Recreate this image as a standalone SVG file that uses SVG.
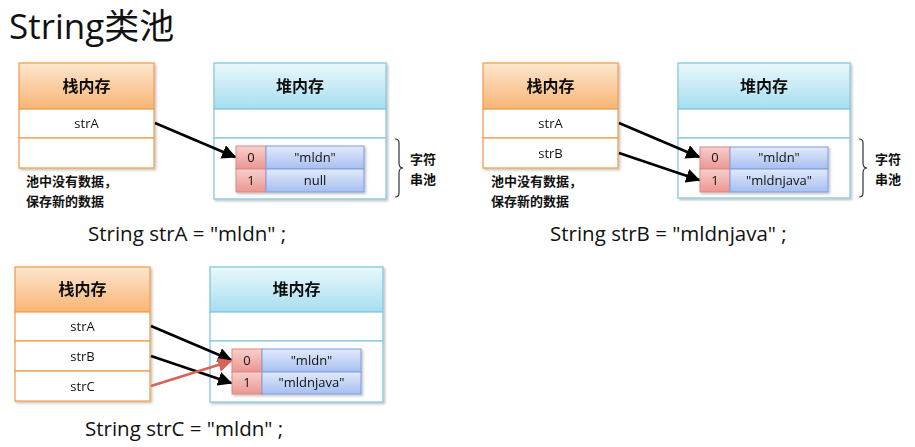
<svg xmlns="http://www.w3.org/2000/svg" width="915" height="447" viewBox="0 0 915 447">
<defs>
<linearGradient id="gOr" x1="0" y1="0" x2="0" y2="1"><stop offset="0" stop-color="#fde6cf"/><stop offset="1" stop-color="#f9b574"/></linearGradient>
<linearGradient id="gCy" x1="0" y1="0" x2="0" y2="1"><stop offset="0" stop-color="#eaf8fc"/><stop offset="1" stop-color="#a6def0"/></linearGradient>
<linearGradient id="gRd" x1="0" y1="0" x2="0" y2="1"><stop offset="0" stop-color="#f8cfcb"/><stop offset="1" stop-color="#eb9692"/></linearGradient>
<linearGradient id="gBl" x1="0" y1="0" x2="0" y2="1"><stop offset="0" stop-color="#e2eafb"/><stop offset="1" stop-color="#a6bff0"/></linearGradient>
<marker id="ak" viewBox="0 0 10 10" refX="9" refY="5" markerWidth="5.5" markerHeight="5.5" orient="auto"><path d="M0,0 L10,5 L0,10 z" fill="#000"/></marker>
<marker id="ar" viewBox="0 0 10 10" refX="9" refY="5" markerWidth="5.5" markerHeight="5.5" orient="auto"><path d="M0,0 L10,5 L0,10 z" fill="#d9625a"/></marker>
<filter id="sh" x="-10%" y="-10%" width="130%" height="130%"><feDropShadow dx="1.5" dy="1.5" stdDeviation="1.2" flood-color="#000" flood-opacity="0.25"/></filter>
</defs>
<style>
.stk{fill:#fff;stroke:#f0a150;stroke-width:1.3}
.stkh{fill:url(#gOr);stroke:#f0a150;stroke-width:1.3}
.hp{fill:#fff;stroke:#86c9de;stroke-width:1.3}
.hph{fill:url(#gCy);stroke:#86c9de;stroke-width:1.3}
.ix{fill:url(#gRd);stroke:#d98a86;stroke-width:1}
.vl{fill:url(#gBl);stroke:#7d9be0;stroke-width:1}
.hd{font-family:"Noto Sans CJK SC",sans-serif;font-weight:bold;font-size:16px;fill:#111;text-anchor:middle}
.cn{font-family:"Noto Sans CJK SC",sans-serif;font-weight:bold;font-size:13px;fill:#111}
.t{font-family:"Open Sans","Noto Sans",sans-serif;font-size:13px;fill:#111;text-anchor:middle}
.code{font-family:"Open Sans","Noto Sans",sans-serif;font-size:20.5px;fill:#111}
.br{fill:none;stroke:#333;stroke-width:1.2}
.ln{stroke:#000;stroke-width:2.6;fill:none;marker-end:url(#ak)}
.lr{stroke:#d9625a;stroke-width:2.6;fill:none;marker-end:url(#ar)}
</style>
<rect width="915" height="447" fill="#fff"/>
<text x="9" y="39" font-family="'Open Sans','Noto Sans','Noto Sans CJK SC',sans-serif" font-size="35" fill="#111">String类池</text>

<!-- Panel 1 -->
<g id="stack1" filter="url(#sh)">
<rect class="stkh" x="19" y="63" width="135" height="46"/>
<rect class="stk" x="19" y="109" width="135" height="29"/>
<rect class="stk" x="19" y="138" width="135" height="30"/>
<text class="hd" x="86.5" y="92">栈内存</text>
<text class="t" x="86.5" y="128">strA</text>
</g>
<g id="heap1" filter="url(#sh)">
<rect class="hph" x="214" y="63" width="172" height="46"/>
<rect class="hp" x="214" y="109" width="172" height="29"/>
<rect class="hp" x="214" y="138" width="172" height="61"/>
<text class="hd" x="300" y="92">堆内存</text>
</g>
<g id="pool1" filter="url(#sh)">
<rect class="ix" x="236" y="146" width="30" height="23"/>
<rect class="vl" x="266" y="146" width="98" height="23"/>
<rect class="ix" x="236" y="169" width="30" height="23"/>
<rect class="vl" x="266" y="169" width="98" height="23"/>
<text class="t" x="251" y="162">0</text>
<text class="t" x="315" y="162">"mldn"</text>
<text class="t" x="251" y="185">1</text>
<text class="t" x="315" y="185">null</text>
</g>
<g id="label1">
<path class="br" d="M395,139 q4,0 4,4 v20 q0,5 4,5 q-4,0 -4,5 v20 q0,4 -4,4"/>
<text class="cn" x="410" y="164">字符</text>
<text class="cn" x="410" y="184">串池</text>
<text class="cn" x="26" y="186">池中没有数据，</text>
<text class="cn" x="26" y="206">保存新的数据</text>
<text class="code" x="88" y="241">String strA = "mldn" ;</text>
</g>

<!-- Panel 2 -->
<g id="stack2" filter="url(#sh)">
<rect class="stkh" x="483" y="63" width="135" height="46"/>
<rect class="stk" x="483" y="109" width="135" height="29"/>
<rect class="stk" x="483" y="138" width="135" height="30"/>
<text class="hd" x="550.5" y="92">栈内存</text>
<text class="t" x="550.5" y="128">strA</text>
<text class="t" x="550.5" y="158">strB</text>
</g>
<g id="heap2" filter="url(#sh)">
<rect class="hph" x="678" y="63" width="172" height="46"/>
<rect class="hp" x="678" y="109" width="172" height="29"/>
<rect class="hp" x="678" y="138" width="172" height="60"/>
<text class="hd" x="764" y="92">堆内存</text>
</g>
<g id="pool2" filter="url(#sh)">
<rect class="ix" x="700" y="147" width="30" height="22"/>
<rect class="vl" x="730" y="147" width="98" height="22"/>
<rect class="ix" x="700" y="169" width="30" height="23"/>
<rect class="vl" x="730" y="169" width="98" height="23"/>
<text class="t" x="715" y="162">0</text>
<text class="t" x="779" y="162">"mldn"</text>
<text class="t" x="715" y="185">1</text>
<text class="t" x="779" y="185">"mldnjava"</text>
</g>
<g id="label2">
<path class="br" d="M859,139 q4,0 4,4 v20 q0,5 4,5 q-4,0 -4,5 v20 q0,4 -4,4"/>
<text class="cn" x="875" y="164">字符</text>
<text class="cn" x="875" y="184">串池</text>
<text class="cn" x="491" y="186">池中没有数据，</text>
<text class="cn" x="491" y="206">保存新的数据</text>
<text class="code" x="550" y="241">String strB = "mldnjava" ;</text>
</g>

<!-- Panel 3 -->
<g id="stack3" filter="url(#sh)">
<rect class="stkh" x="15" y="267" width="135" height="45"/>
<rect class="stk" x="15" y="312" width="135" height="29"/>
<rect class="stk" x="15" y="341" width="135" height="30"/>
<rect class="stk" x="15" y="371" width="135" height="30"/>
<text class="hd" x="82.5" y="295">栈内存</text>
<text class="t" x="82.5" y="331">strA</text>
<text class="t" x="82.5" y="361">strB</text>
<text class="t" x="82.5" y="391">strC</text>
</g>
<g id="heap3" filter="url(#sh)">
<rect class="hph" x="210" y="267" width="173" height="45"/>
<rect class="hp" x="210" y="312" width="173" height="29"/>
<rect class="hp" x="210" y="341" width="173" height="61"/>
<text class="hd" x="296.5" y="295">堆内存</text>
</g>
<g id="pool3" filter="url(#sh)">
<rect class="ix" x="232" y="349" width="30" height="23"/>
<rect class="vl" x="262" y="349" width="99" height="23"/>
<rect class="ix" x="232" y="372" width="30" height="22"/>
<rect class="vl" x="262" y="372" width="99" height="22"/>
<text class="t" x="247" y="365">0</text>
<text class="t" x="311.5" y="365">"mldn"</text>
<text class="t" x="247" y="387">1</text>
<text class="t" x="311.5" y="387">"mldnjava"</text>
</g>
<g id="label3">
<text class="code" x="85" y="436">String strC = "mldn" ;</text>
</g>

<g id="connectors">
<line class="ln" x1="155" y1="123" x2="235" y2="157"/>
<line class="ln" x1="619" y1="123" x2="699" y2="157"/>
<line class="ln" x1="619" y1="153" x2="699" y2="180"/>
<line class="ln" x1="151" y1="326" x2="231" y2="360"/>
<line class="ln" x1="151" y1="356" x2="231" y2="383"/>
<line class="lr" x1="151" y1="386" x2="231" y2="361"/>
</g>
</svg>
